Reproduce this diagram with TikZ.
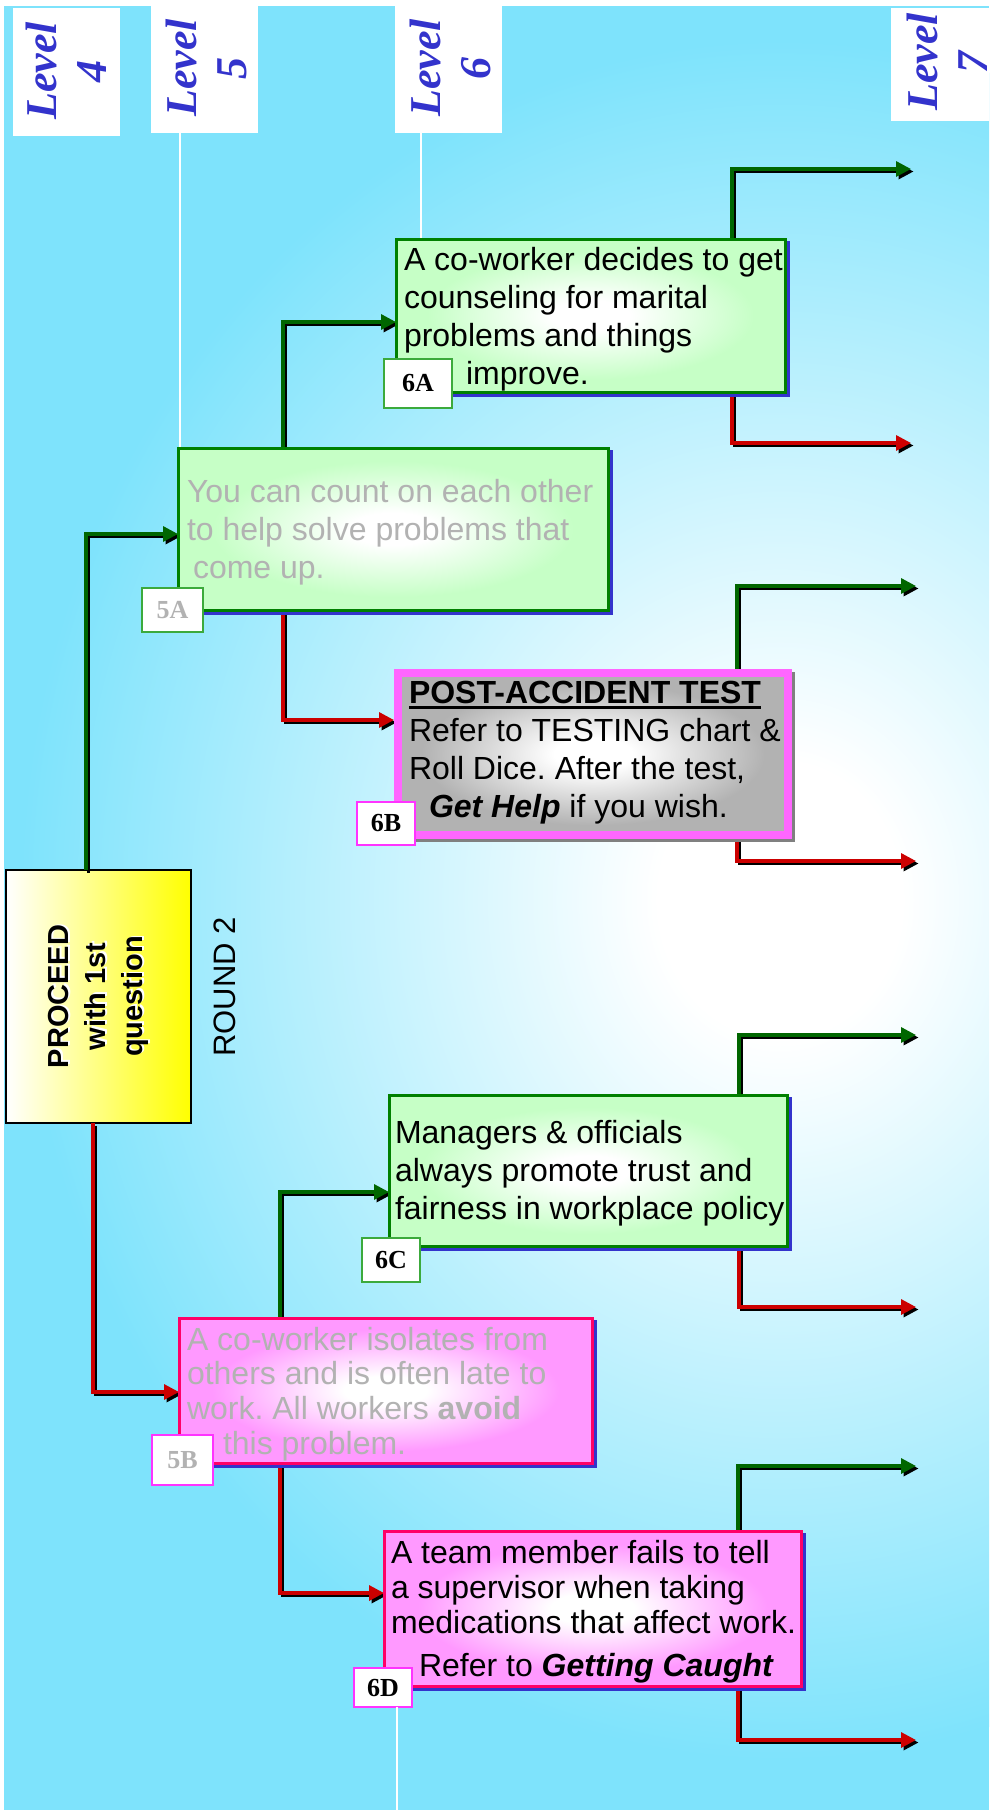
\documentclass[tikz,border=0pt]{standalone}
\usepackage{fontspec}
\setmainfont{Liberation Sans}
\newfontfamily\timesface{Liberation Serif}
\usetikzlibrary{arrows.meta,shadows,calc}
\frenchspacing

% palette
\definecolor{bgcyan}{RGB}{126,227,252}
\definecolor{levelblue}{RGB}{51,51,204}
\definecolor{shadowblue}{RGB}{51,51,204}
\definecolor{shadowgray}{RGB}{128,128,128}
\definecolor{okgreen}{RGB}{0,102,0}
\definecolor{badred}{RGB}{204,0,0}
\definecolor{boxgreen}{RGB}{198,255,198}
\definecolor{greenedge}{RGB}{0,128,0}
\definecolor{tagedge}{RGB}{60,170,60}
\definecolor{boxpink}{RGB}{255,153,255}
\definecolor{pinkedge}{RGB}{255,0,102}
\definecolor{tagpink}{RGB}{255,51,255}
\definecolor{testpink}{RGB}{255,102,255}
\definecolor{testgray}{RGB}{178,178,178}
\definecolor{mutedtext}{RGB}{178,178,178}

% soft glows used as fills
\pgfdeclareradialshading{skyglow}{\pgfpoint{0bp}{0bp}}{color(0bp)=(white);color(4bp)=(white);color(25bp)=(bgcyan);color(50bp)=(bgcyan)}
\pgfdeclareradialshading{glowgreen}{\pgfpoint{0bp}{0bp}}{color(0bp)=(white);color(5bp)=(white);color(21bp)=(boxgreen);color(50bp)=(boxgreen)}
\pgfdeclareradialshading{glowpink}{\pgfpoint{0bp}{0bp}}{color(0bp)=(white);color(5bp)=(white);color(21bp)=(boxpink);color(50bp)=(boxpink)}
\pgfdeclareradialshading{glowgray}{\pgfpoint{0bp}{0bp}}{color(0bp)=(white);color(5bp)=(white);color(22bp)=(testgray);color(50bp)=(testgray)}

% underline drawn as a thick bar
\newcommand\ulbar[1]{\leavevmode\setbox0=\hbox{#1}\rlap{\rule[-6pt]{\wd0}{2.6pt}}\box0}

% connector with a black offset shadow underneath
\newcommand\flowlink[2]{%
  \draw[linkline, black, transform canvas={xshift=2.5pt,yshift=-2.5pt}] #2;
  \draw[linkline, #1] #2;}

\tikzset{
  linkline/.style={line width=3.3pt, -{Triangle[length=15pt,width=15pt]}},
  levelbox/.style={fill=white, draw=none, anchor=north west, inner sep=0pt, outer sep=0pt},
  leveltext/.style={rotate=90, align=center, text=levelblue,
    font={\timesface\bfseries\itshape\fontsize{44}{50}\selectfont}},
  guide/.style={draw=white, line width=1.5pt},
  gbox/.style={shade, shading=glowgreen, draw=greenedge, line width=3pt,
    anchor=north west, inner sep=0pt, outer sep=0pt,
    general shadow={fill=shadowblue, draw=shadowblue, line width=3pt,
      shadow xshift=3pt, shadow yshift=-3pt}},
  pbox/.style={shade, shading=glowpink, draw=pinkedge, line width=3pt,
    anchor=north west, inner sep=0pt, outer sep=0pt,
    general shadow={fill=shadowblue, draw=shadowblue, line width=3pt,
      shadow xshift=3pt, shadow yshift=-3pt}},
  testbox/.style={shade, shading=glowgray, draw=testpink, line width=8pt,
    anchor=north west, inner sep=0pt, outer sep=4pt,
    general shadow={fill=shadowgray, draw=shadowgray, line width=8pt,
      shadow xshift=3pt, shadow yshift=-3pt}},
  tag/.style={fill=white, line width=1.5pt, anchor=north west, inner sep=0pt,
    outer sep=0pt, font={\timesface\bfseries\fontsize{26}{26}\selectfont}},
  gtag/.style={tag, draw=tagedge},
  ptag/.style={tag, draw=tagpink},
  bodytext/.style={anchor=base west, inner sep=0pt, outer sep=0pt},
}

\begin{document}
\begin{tikzpicture}[x=1pt,y=-1pt]
\useasboundingbox (0,0) rectangle (989,1810);
\clip (0,0) rectangle (989,1810);

% backdrop
\fill[white] (0,0) rectangle (989,1810);
\fill[bgcyan] (4,6) rectangle (989,1810);
\begin{scope}
  \clip (4,6) rectangle (989,1810);
  \shade[shading=skyglow] (780,900) ellipse (760 and 860);
\end{scope}

% level headers
\node[levelbox, minimum width=107pt, minimum height=128pt] (lv4) at (13,8) {};
\node[leveltext] (lt4) at (66,71) {Level\\4};
\node[levelbox, minimum width=107pt, minimum height=133pt] (lv5) at (151,0) {};
\node[leveltext] (lt5) at (206,68) {Level\\5};
\node[levelbox, minimum width=107pt, minimum height=133pt] (lv6) at (395,0) {};
\node[leveltext] (lt6) at (450,68) {Level\\6};
\node[levelbox, minimum width=107pt, minimum height=113pt] (lv7) at (891,8) {};
\node[leveltext] (lt7) at (947,62) {Level\\7};

% start box and round title
\node[shade, left color=white, right color=yellow, draw=black, line width=1.5pt,
      anchor=north west, inner sep=0pt, outer sep=0pt,
      minimum width=185pt, minimum height=253pt] (proc) at (6,870) {};
\node[rotate=90, align=center, text=white,
      font={\bfseries\fontsize{29}{37}\selectfont}] (procshade) at (100.5,995) {PROCEED\\with 1st\\question};
\node[rotate=90, align=center, text=black,
      font={\bfseries\fontsize{29}{37}\selectfont}] (proctext) at (98.5,996.5) {PROCEED\\with 1st\\question};
\node[rotate=90, font={\fontsize{31}{31}\selectfont}] (round) at (225,987) {ROUND 2};

% level 5 and level 6 boxes (drawn first as anchors for the links)
\node[gbox, minimum width=430pt, minimum height=162pt] (a5) at (178,448) {};
\node[pbox, minimum width=413pt, minimum height=145pt] (b5) at (179,1318) {};
\node[gbox, minimum width=389pt, minimum height=153pt] (a6) at (396,239) {};
\node[testbox, minimum width=390pt, minimum height=162pt] (b6) at (394,669) {};
\node[gbox, minimum width=398pt, minimum height=151pt] (c6) at (389,1095) {};
\node[pbox, minimum width=417pt, minimum height=155pt] (d6) at (384,1531) {};

% guide lines under the level headers
\coordinate (g5) at (180,133);
\coordinate (g6) at (421,133);
\draw[guide] (g5) -- (g5 |- a5.north);
\draw[guide] (g6) -- (g6 |- a6.north);

% corners and free ends of the links
\coordinate (k1) at (86,534);
\coordinate (k2) at (93,1392);
\coordinate (k3) at (283,322);
\coordinate (k4) at (283,720);
\coordinate (k5) at (280,1192);
\coordinate (k6) at (280,1593);
\coordinate (k7) at (732,169);   \coordinate (e7) at (911,169);
\coordinate (k8) at (732,443);   \coordinate (e8) at (911,443);
\coordinate (k9) at (737,586);   \coordinate (e9) at (916,586);
\coordinate (k10) at (737,861);  \coordinate (e10) at (916,861);
\coordinate (k11) at (739,1035); \coordinate (e11) at (916,1035);
\coordinate (k12) at (739,1307); \coordinate (e12) at (916,1307);
\coordinate (k13) at (738,1466); \coordinate (e13) at (916,1466);
\coordinate (k14) at (738,1740); \coordinate (e14) at (916,1740);

% links
\flowlink{okgreen}{(proc.north -| k1) -- (k1) -- (k1 -| a5.west)}
\flowlink{badred}{(proc.south -| k2) -- (k2) -- (k2 -| b5.west)}
\flowlink{okgreen}{(a5.north -| k3) -- (k3) -- (k3 -| a6.west)}
\flowlink{badred}{(a5.south -| k4) -- (k4) -- (k4 -| b6.west)}
\flowlink{okgreen}{(b5.north -| k5) -- (k5) -- (k5 -| c6.west)}
\flowlink{badred}{(b5.south -| k6) -- (k6) -- (k6 -| d6.west)}
\flowlink{okgreen}{(a6.north -| k7) -- (k7) -- (e7)}
\flowlink{badred}{(a6.south -| k8) -- (k8) -- (e8)}
\flowlink{okgreen}{(b6.north -| k9) -- (k9) -- (e9)}
\flowlink{badred}{(b6.south -| k10) -- (k10) -- (e10)}
\flowlink{okgreen}{(c6.north -| k11) -- (k11) -- (e11)}
\flowlink{badred}{(c6.south -| k12) -- (k12) -- (e12)}
\flowlink{okgreen}{(d6.north -| k13) -- (k13) -- (e13)}
\flowlink{badred}{(d6.south -| k14) -- (k14) -- (e14)}

% redraw the boxes over the link ends
\node[gbox, minimum width=430pt, minimum height=162pt] (a5top) at (178,448) {};
\node[pbox, minimum width=413pt, minimum height=145pt] (b5top) at (179,1318) {};
\node[gbox, minimum width=389pt, minimum height=153pt] (a6top) at (396,239) {};
\node[testbox, minimum width=390pt, minimum height=162pt] (b6top) at (394,669) {};
\node[gbox, minimum width=398pt, minimum height=151pt] (c6top) at (389,1095) {};
\node[pbox, minimum width=417pt, minimum height=155pt] (d6top) at (384,1531) {};

% box texts
\node[bodytext, text=mutedtext] (t5a) at (187,502) {\parbox[t]{450pt}{\raggedright\fontsize{32}{38}\selectfont
  You can count on each other\\to help solve problems that\\\hspace*{6pt}come up.}};
\node[bodytext, text=mutedtext] (t5b) at (187,1350) {\parbox[t]{450pt}{\raggedright\fontsize{32}{34.7}\selectfont
  A co-worker isolates from\\others and is often late to\\work. All workers \textbf{avoid}\\\hspace*{36pt}this problem.}};
\node[bodytext] (t6a) at (404,270) {\parbox[t]{450pt}{\raggedright\fontsize{32}{38}\selectfont
  A co-worker decides to get\\counseling for marital\\problems and things\\\hspace*{62pt}improve.}};
\node[bodytext] (t6b) at (409,703) {\parbox[t]{450pt}{\raggedright\fontsize{32}{38}\selectfont
  \ulbar{\textbf{POST-ACCIDENT TEST}}\\Refer to TESTING chart \&\\Roll Dice. After the test,\\\hspace*{20pt}\textbf{\textit{Get Help}} if you wish.}};
\node[bodytext] (t6c) at (395,1143) {\parbox[t]{450pt}{\raggedright\fontsize{32}{38}\selectfont
  Managers \& officials\\always promote trust and\\fairness in workplace policy}};
\node[bodytext] (t6d) at (391,1563) {\parbox[t]{450pt}{\raggedright\fontsize{32}{35}\selectfont
  A team member fails to tell\\a supervisor when taking\\medications that affect work.\\[8pt]\hspace*{28pt}Refer to \textbf{\textit{Getting Caught}}}};

% box tags
\node[gtag, text=mutedtext, minimum width=61pt, minimum height=44pt] (l5a) at (142,588) {5A};
\node[ptag, text=mutedtext, minimum width=61pt, minimum height=50pt] (l5b) at (152,1435) {5B};
\node[gtag, minimum width=68pt, minimum height=49pt] (l6a) at (384,359) {6A};
\node[ptag, minimum width=58pt, minimum height=43pt] (l6b) at (357,802) {6B};
\node[gtag, minimum width=58pt, minimum height=44pt] (l6c) at (362,1238) {6C};
\node[ptag, minimum width=58pt, minimum height=39pt] (l6d) at (354,1668) {6D};

% guide line below the last tag
\coordinate (g7) at (397,1707);
\draw[guide] (g7) -- (g7 |- 0,1810);
\end{tikzpicture}
\end{document}
